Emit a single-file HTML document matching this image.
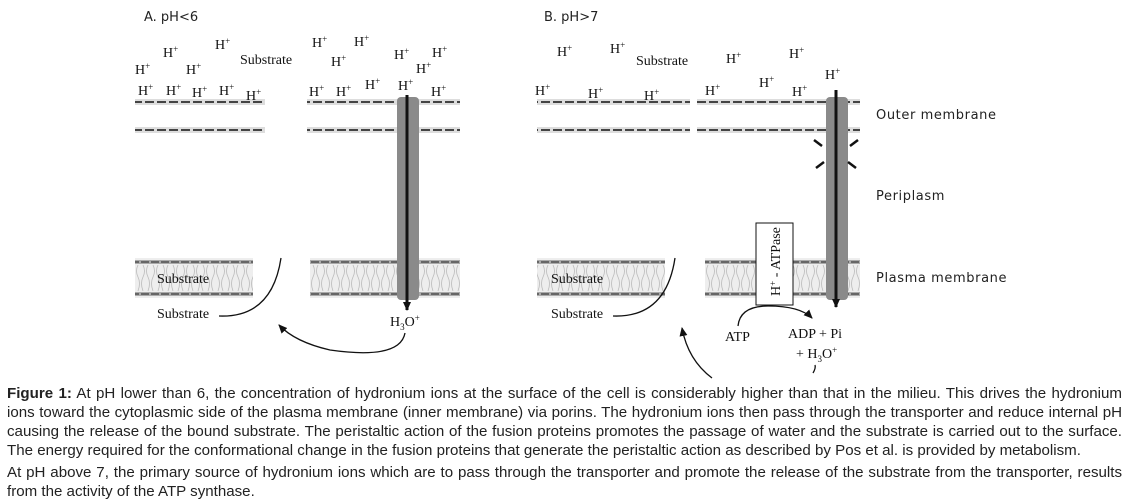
<!DOCTYPE html>
<html><head><meta charset="utf-8"><style>
html,body{margin:0;padding:0;background:#fff;width:1131px;height:501px;overflow:hidden}
svg{position:absolute;left:0;top:0}
.cap{position:absolute;left:7px;width:1115px;font-family:"Liberation Sans",Arial,sans-serif;font-size:15.1px;color:#222;line-height:19px}
.j{text-align:justify;text-align-last:justify;white-space:nowrap}
.s{font-family:"Liberation Serif",serif;font-size:14px;fill:#111}
.n{font-family:"DejaVu Sans",sans-serif;font-size:13px;fill:#222}
</style></head><body>
<svg width="1131" height="380" viewBox="0 0 1131 380">
<defs>
<pattern id="om" x="0" y="99" width="12" height="6" patternUnits="userSpaceOnUse">
<rect width="12" height="6" fill="#ddd"/><rect x="1" y="2" width="9" height="2" fill="#444"/></pattern>
<pattern id="om2" x="0" y="127" width="12" height="6" patternUnits="userSpaceOnUse">
<rect width="12" height="6" fill="#ddd"/><rect x="1" y="2" width="9" height="2" fill="#444"/></pattern>
<pattern id="pm" x="0" y="258" width="10" height="40" patternUnits="userSpaceOnUse">
<rect width="10" height="40" fill="#eee"/>
<path d="M3 7 q3 6 0 12 q-3 6 0 14 M8 7 q-3 6 0 12 q3 6 0 14" stroke="#bbb" fill="none" stroke-width="0.8"/>
<rect y="2" width="10" height="4" fill="#aaa"/><rect y="34" width="10" height="4" fill="#aaa"/>
<rect x="1" y="3" width="8" height="2" fill="#666"/><rect x="1" y="35" width="8" height="2" fill="#666"/></pattern>
<marker id="ah" markerUnits="userSpaceOnUse" markerWidth="10" markerHeight="10" refX="8" refY="5" orient="auto"><path d="M0,1 L9,5 L0,9 z" fill="#111"/></marker>
</defs>
<text x="144" y="21" class="n" font-size="12">A. pH&lt;6</text>
<text x="544" y="21" class="n" font-size="12">B. pH&gt;7</text>
<!-- left membranes -->
<rect x="135" y="99" width="130" height="6" fill="url(#om)"/>
<rect x="135" y="127" width="130" height="6" fill="url(#om2)"/>
<rect x="307" y="99" width="153" height="6" fill="url(#om)"/>
<rect x="307" y="127" width="153" height="6" fill="url(#om2)"/>
<rect x="135" y="258" width="118" height="40" fill="url(#pm)"/>
<rect x="310" y="258" width="150" height="40" fill="url(#pm)"/>
<rect x="397" y="97" width="22" height="203" rx="4" fill="#8a8a8a"/>
<line x1="407" y1="95" x2="407" y2="310" stroke="#111" stroke-width="3" marker-end="url(#ah)"/>
<!-- right membranes -->
<rect x="537" y="99" width="153" height="6" fill="url(#om)"/>
<rect x="537" y="127" width="153" height="6" fill="url(#om2)"/>
<rect x="697" y="99" width="163" height="6" fill="url(#om)"/>
<rect x="697" y="127" width="163" height="6" fill="url(#om2)"/>
<rect x="537" y="258" width="128" height="40" fill="url(#pm)"/>
<rect x="705" y="258" width="155" height="40" fill="url(#pm)"/>
<rect x="826" y="97" width="22" height="203" rx="4" fill="#8a8a8a"/>
<line x1="836" y1="90" x2="836" y2="307" stroke="#111" stroke-width="3" marker-end="url(#ah)"/>
<g stroke="#111" stroke-width="2.5"><line x1="814" y1="140" x2="822" y2="146"/><line x1="858" y1="140" x2="850" y2="146"/><line x1="816" y1="168" x2="824" y2="162"/><line x1="856" y1="168" x2="848" y2="162"/></g>
<rect x="756" y="223" width="37" height="82" fill="#fff" stroke="#111"/>
<text transform="translate(780,296) rotate(-90)" class="s" font-size="13">H<tspan dy="-4" font-size="9">+</tspan><tspan dy="4"> - ATPase</tspan></text>
<text x="876" y="119" class="n" letter-spacing="0.6">Outer membrane</text>
<text x="876" y="200" class="n" letter-spacing="0.6">Periplasm</text>
<text x="876" y="282" class="n" letter-spacing="0.6">Plasma membrane</text>
<!-- labels -->
<g class="s">
<text x="157" y="283">Substrate</text><text x="157" y="318">Substrate</text>
<text x="551" y="283">Substrate</text><text x="551" y="318">Substrate</text>
<text x="240" y="64">Substrate</text><text x="636" y="65">Substrate</text>
<text x="390" y="326">H<tspan dy="4" font-size="9">3</tspan><tspan dy="-4">O</tspan><tspan dy="-5" font-size="9">+</tspan></text>
<text x="725" y="341">ATP</text><text x="788" y="338">ADP + Pi</text>
<text x="796" y="358">+ H<tspan dy="4" font-size="9">3</tspan><tspan dy="-4">O</tspan><tspan dy="-5" font-size="9">+</tspan></text>
</g>
<g class="s" font-size="14">
<text x="163" y="57">H<tspan dy="-5" font-size="9">+</tspan></text>
<text x="215" y="49">H<tspan dy="-5" font-size="9">+</tspan></text>
<text x="135" y="74">H<tspan dy="-5" font-size="9">+</tspan></text>
<text x="186" y="74">H<tspan dy="-5" font-size="9">+</tspan></text>
<text x="138" y="95">H<tspan dy="-5" font-size="9">+</tspan></text>
<text x="166" y="95">H<tspan dy="-5" font-size="9">+</tspan></text>
<text x="192" y="97">H<tspan dy="-5" font-size="9">+</tspan></text>
<text x="219" y="95">H<tspan dy="-5" font-size="9">+</tspan></text>
<text x="246" y="100">H<tspan dy="-5" font-size="9">+</tspan></text>
<text x="312" y="47">H<tspan dy="-5" font-size="9">+</tspan></text>
<text x="354" y="46">H<tspan dy="-5" font-size="9">+</tspan></text>
<text x="331" y="66">H<tspan dy="-5" font-size="9">+</tspan></text>
<text x="394" y="59">H<tspan dy="-5" font-size="9">+</tspan></text>
<text x="432" y="57">H<tspan dy="-5" font-size="9">+</tspan></text>
<text x="416" y="73">H<tspan dy="-5" font-size="9">+</tspan></text>
<text x="365" y="89">H<tspan dy="-5" font-size="9">+</tspan></text>
<text x="309" y="96">H<tspan dy="-5" font-size="9">+</tspan></text>
<text x="336" y="96">H<tspan dy="-5" font-size="9">+</tspan></text>
<text x="398" y="90">H<tspan dy="-5" font-size="9">+</tspan></text>
<text x="431" y="96">H<tspan dy="-5" font-size="9">+</tspan></text>
<text x="557" y="56">H<tspan dy="-5" font-size="9">+</tspan></text>
<text x="610" y="53">H<tspan dy="-5" font-size="9">+</tspan></text>
<text x="726" y="63">H<tspan dy="-5" font-size="9">+</tspan></text>
<text x="789" y="58">H<tspan dy="-5" font-size="9">+</tspan></text>
<text x="825" y="79">H<tspan dy="-5" font-size="9">+</tspan></text>
<text x="535" y="95">H<tspan dy="-5" font-size="9">+</tspan></text>
<text x="588" y="98">H<tspan dy="-5" font-size="9">+</tspan></text>
<text x="644" y="100">H<tspan dy="-5" font-size="9">+</tspan></text>
<text x="705" y="95">H<tspan dy="-5" font-size="9">+</tspan></text>
<text x="759" y="87">H<tspan dy="-5" font-size="9">+</tspan></text>
<text x="792" y="96">H<tspan dy="-5" font-size="9">+</tspan></text>
</g>
<g fill="none" stroke="#111" stroke-width="1.3">
<path d="M219 316 Q272 318 281 258"/>
<path d="M613 316 Q666 318 675 258"/>
<path d="M405 333 Q400 360 330 350 Q295 342 279 325" marker-end="url(#ah)"/>
<path d="M712 378 Q688 360 682 328" marker-end="url(#ah)"/>
<path d="M738 326 Q740 306 768 306 Q800 306 812 318" marker-end="url(#ah)"/>
<path d="M813 373 Q816 368 815 365"/>
</g>
</svg>
<div class="cap j" style="top:384px"><b>Figure 1:</b> At pH lower than 6, the concentration of hydronium ions at the surface of the cell is considerably higher than that in the milieu. This drives the hydronium</div>
<div class="cap j" style="top:403px">ions toward the cytoplasmic side of the plasma membrane (inner membrane) via porins. The hydronium ions then pass through the transporter and reduce internal pH</div>
<div class="cap j" style="top:422px">causing the release of the bound substrate. The peristaltic action of the fusion proteins promotes the passage of water and the substrate is carried out to the surface.</div>
<div class="cap" style="top:441px;white-space:nowrap">The energy required for the conformational change in the fusion proteins that generate the peristaltic action as described by Pos et al. is provided by metabolism.</div>
<div class="cap j" style="top:463px">At pH above 7, the primary source of hydronium ions which are to pass through the transporter and promote the release of the substrate from the transporter, results</div>
<div class="cap" style="top:482px">from the activity of the ATP synthase.</div>
</body></html>
